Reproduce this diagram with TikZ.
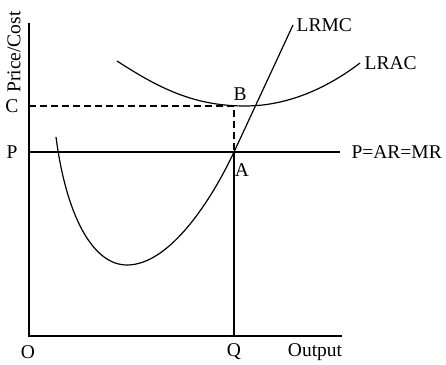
\documentclass[tikz,border=0pt]{standalone}
\usepackage{fontspec}
\setmainfont{Liberation Serif}
\usepackage{tikz}
\usetikzlibrary{calc}

\begin{document}
\begin{tikzpicture}[x=1pt,y=1pt,line width=1.1pt,
    lbl/.style={font=\fontsize{19.5}{21}\selectfont, inner sep=1pt},
    curve/.style={line width=1.2pt}]
  \useasboundingbox (0,0) rectangle (446,364);
  % 軸
  \coordinate (ytop) at (29,341);
  \coordinate (O) at (29,28);
  \coordinate (xend) at (342,28);
  \draw[line width=1.4pt] (ytop) -- (O) -- (xend);
  \node[lbl, rotate=90] (ylab) at (14,312) {Price/Cost};
  \node[lbl] (Olab) at (28,12) {O};
  \node[lbl] (Olab2) at (315,12) {Output};
  % 価格と費用
  \coordinate (Cy) at (29,258);
  \coordinate (Py) at (29,212);
  \coordinate (Pend) at (340,212);
  \coordinate (B) at (234,258);
  \coordinate (A) at (234,212);
  \coordinate (Q) at (234,28);
  \node[lbl] (Clab) at (12,258) {C};
  \node[lbl] (Plab) at (12,212) {P};
  \node[lbl] (Qlab) at (234,12) {Q};
  \node[lbl] (Blab) at (240,270) {B};
  \node[lbl] (Alab) at (242,194) {A};
  \draw[dashed, dash pattern=on 7pt off 4pt] (Cy) -- (B) -- (A);
  \draw (Py) -- (Pend) node[lbl, right=10pt] (dem) {P=AR=MR};
  \draw (A) -- (Q);
  % LRAC
  \draw[curve] (117,303) .. controls (160,275) and (195,258) .. (245,258)
    .. controls (290,258) and (330,278) .. (360,301)
    node[lbl, right=3pt] (lrac) {LRAC};
  % LRMC
  \draw[curve] (56,227) .. controls (66,150) and (92,99) .. (127,99)
    .. controls (170,99) and (212,165) .. (A)
    .. controls (254,255) and (274,298) .. (293,339)
    node[lbl, right=2pt] (lrmc) {LRMC};
\end{tikzpicture}
\end{document}
